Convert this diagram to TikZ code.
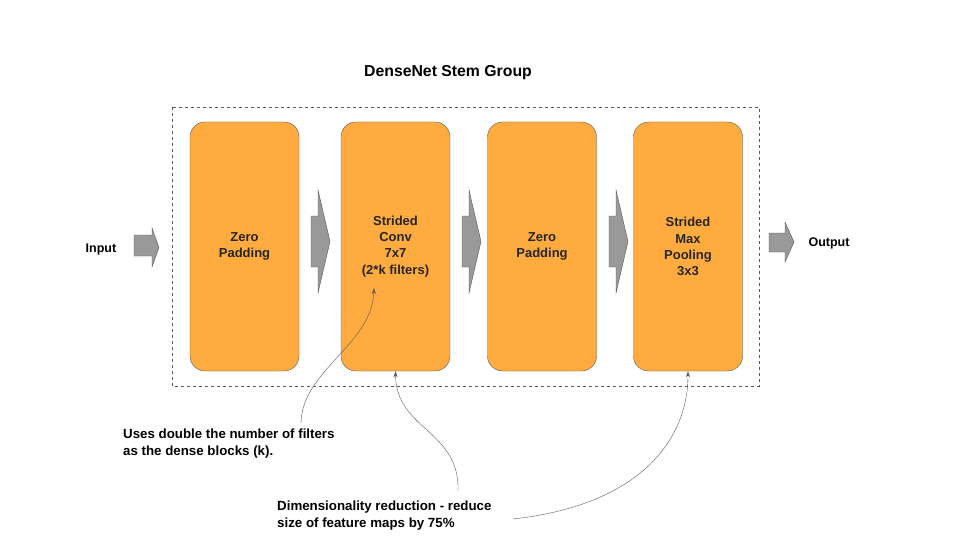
\documentclass[tikz,border=0pt]{standalone}
\usepackage{fontspec}
\setmainfont{Liberation Sans}
\usepackage{xcolor}
\usetikzlibrary{arrows.meta,positioning,calc}

\definecolor{stemorange}{HTML}{FFAB40}
\definecolor{edgegray}{HTML}{595959}
\definecolor{arrowgray}{HTML}{999999}

\tikzset{
    stage/.style={draw=edgegray, fill=stemorange, rounded corners=15pt, minimum width=109pt,
        minimum height=249pt, align=center, font=\fontsize{13}{16.2}\selectfont\bfseries, text=black!85},
    label/.style={font=\fontsize{12.5}{15}\selectfont\bfseries},
    note/.style={align=left, anchor=north west, font=\fontsize{13.3}{16.2}\selectfont\bfseries, inner sep=0pt},
    pointer/.style={draw=edgegray, thin, -{Stealth[length=6pt,width=4pt]}},
    blockarrow/.style={draw=edgegray, fill=arrowgray, thin}
}

\begin{document}
\begin{tikzpicture}[x=1pt, y=-1pt]
    \useasboundingbox (0,0) rectangle (960,540);

    % title and group frame
    \node[font=\fontsize{15.8}{18}\selectfont\bfseries] (title) at (448,73) {DenseNet Stem Group};
    \draw[dashed, edgegray, thin] (172,107) rectangle (759,386);

    % stages
    \node[stage] (pad1) at (244.5,246.5) {Zero\\Padding};
    \node[stage] (conv) at (395.5,246.5) {Strided\\Conv\\7x7\\(2*k filters)};
    \node[stage] (pad2) at (542,246.5) {Zero\\Padding};
    \node[stage] (pool) at (688,246.5) {Strided\\Max\\Pooling\\3x3};

    % input / output
    \node[label] (input) at (101,249) {Input};
    \node[label] (output) at (829,243) {Output};
    \draw[blockarrow] (134,235) -- (152,235) -- (152,228) -- (159,247.5) -- (152,267) -- (152,256) -- (134,256) -- cycle;
    \draw[blockarrow] (769,233) -- (785,233) -- (785,222) -- (794,242) -- (785,262) -- (785,252) -- (769,252) -- cycle;

    % arrows between stages
    \foreach \x in {311, 462, 609} {
        \draw[blockarrow] (\x,216) -- (\x+7,216) -- (\x+7,190) -- (\x+19,241.5) -- (\x+7,293) -- (\x+7,267) -- (\x,267) -- cycle;
    }

    % notes
    \node[note] (filtnote) at (123,429) {Uses double the number of filters\\as the dense blocks (k).};
    \node[note] (dimnote) at (277,501) {Dimensionality reduction - reduce\\size of feature maps by 75\%};

    \coordinate (filtstart) at (301,423);
    \coordinate (dimstartA) at (458,491);
    \coordinate (dimstartB) at (513,519);

    \draw[pointer] (filtstart) .. controls (302,370) and (372,345) .. ($(conv.center)+(-21.5,41.5)$);
    \draw[pointer] (dimstartA) .. controls (460,430) and (396,430) .. (conv.south);
    \draw[pointer] (dimstartB) .. controls (640,505) and (688,440) .. (pool.south);
\end{tikzpicture}
\end{document}
